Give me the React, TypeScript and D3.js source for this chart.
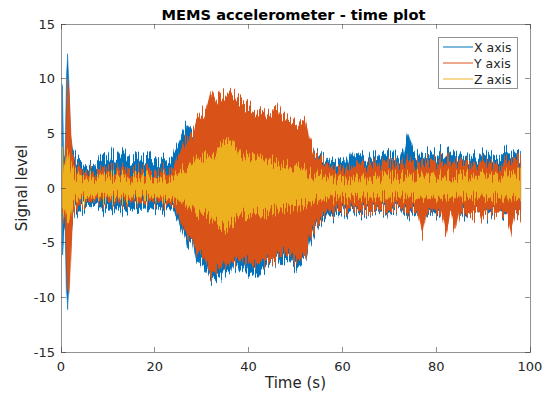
import React from "react";
import * as d3 from "d3";

const title = "MEMS accelerometer - time plot";
const xLabel = "Time (s)";
const yLabel = "Signal level";
const xTicks = [0, 20, 40, 60, 80, 100];
const yTicks = [-15, -10, -5, 0, 5, 10, 15];
const seriesNames = ["X axis", "Y axis", "Z axis"];
const seriesColors = ["#0072BD", "#D95319", "#EDB120"];

// time stamps (s) at which the envelope of each noisy trace was read
const time = [
  0.3, 0.6, 0.9, 1.2, 1.4, 1.7, 2.0, 2.4, 3,
  4, 5, 6, 7, 8, 9, 10, 11, 12, 13, 14, 15, 16, 17, 18, 19, 20, 21, 22, 23, 24,
  25, 26, 27, 28, 29, 30, 31, 32, 33, 34, 35, 36, 37, 38, 39, 40, 41, 42, 43, 44,
  45, 46, 47, 48, 49, 50, 51, 52, 53, 54, 55, 56, 57, 58, 59, 60, 61, 62, 63, 64,
  65, 66, 67, 68, 69, 70, 71, 72, 73, 74, 75, 76, 77, 78, 79, 80, 81, 82, 83, 84,
  85, 86, 87, 88, 89, 90, 91, 92, 93, 94, 95, 96, 97, 98,
];

const xHi = [
  9.1, 2.5, 3.0, 10.5, 12.0, 9.5, 5.0, 3.5, 2.8,
  2.6, 2.2, 2.0, 2.1, 2.4, 2.9, 2.5, 3.2, 2.6, 3.3, 2.8, 2.6, 3.0, 2.7, 2.5, 2.9, 2.6, 2.5, 2.8, 2.6, 3.2,
  4.0, 5.0, 5.8, 5.2, 6.0, 6.5, 6.5, 7.0, 7.5, 8.0, 8.2, 8.5, 8.0, 7.5, 7.0, 7.5, 6.8, 6.5, 6.8, 6.2,
  6.5, 6.0, 6.2, 5.8, 5.5, 5.6, 5.2, 4.8, 4.0, 3.5, 3.0, 2.6, 2.3, 2.5, 2.6, 2.9, 2.4, 3.5, 2.7, 3.0,
  2.6, 3.2, 2.8, 3.0, 2.7, 3.3, 3.0, 2.8, 3.2, 5.0, 3.4, 3.0, 2.8, 3.1, 3.3, 2.9, 3.4, 3.0, 3.5, 3.2,
  2.9, 2.7, 2.8, 3.0, 2.6, 3.2, 2.9, 3.0, 2.7, 3.1, 3.3, 2.9, 3.2, 2.8,
];
const xLo = [
  -6.4, -3.5, -4.0, -10.0, -11.4, -9.0, -5.0, -3.0, -2.2,
  -2.0, -1.8, -1.5, -1.6, -1.7, -2.0, -1.8, -2.2, -1.7, -2.0, -1.9, -2.1, -1.8, -1.9, -1.7, -2.0, -1.8, -1.9, -2.0, -1.8, -2.0,
  -2.8, -4.0, -5.4, -5.0, -6.8, -7.0, -7.5, -8.3, -8.0, -8.2, -7.5, -7.8, -7.0, -7.5, -7.2, -8.0, -7.8, -8.2, -7.5, -7.0,
  -7.0, -6.5, -6.8, -6.5, -6.8, -7.2, -7.0, -6.6, -5.0, -4.0, -3.0, -2.8, -2.4, -2.6, -2.3, -2.2, -2.5, -2.2, -2.4, -2.3,
  -2.1, -2.4, -2.0, -2.2, -2.0, -2.2, -2.1, -2.0, -2.2, -2.4, -2.3, -2.5, -2.7, -2.5, -2.3, -2.4, -2.3, -2.4, -2.5, -2.3,
  -2.2, -2.4, -2.3, -2.5, -2.2, -2.4, -2.6, -2.3, -2.2, -2.4, -2.5, -2.6, -2.4, -2.3,
];
const yHi = [
  2.5, 2.0, 2.5, 7.0, 10.0, 9.0, 6.0, 3.0, 2.0,
  1.8, 1.6, 1.5, 1.4, 1.5, 1.6, 1.5, 1.7, 1.6, 1.7, 1.6, 1.6, 1.7, 1.6, 1.5, 1.6, 1.6, 1.5, 1.7, 1.8, 2.0,
  2.8, 3.8, 4.5, 5.0, 6.3, 6.8, 7.2, 8.8, 7.8, 8.6, 8.4, 8.8, 8.5, 8.0, 7.6, 7.4, 7.2, 7.0, 6.8, 6.6,
  6.9, 7.4, 6.6, 6.3, 6.1, 5.8, 6.0, 6.2, 4.4, 3.4, 2.7, 2.3, 2.0, 1.8, 1.9, 2.0, 1.8, 2.2, 2.0, 2.3,
  2.0, 2.6, 2.1, 2.2, 2.0, 2.4, 2.2, 2.3, 2.2, 2.5, 2.3, 2.2, 2.1, 2.4, 2.5, 2.3, 2.6, 2.4, 2.7, 2.5,
  2.4, 2.2, 2.3, 2.2, 2.1, 2.4, 2.2, 2.3, 2.1, 2.2, 2.4, 2.3, 2.6, 2.5,
];
const yLo = [
  -3.0, -2.5, -3.0, -7.0, -10.0, -9.5, -7.0, -3.0, -1.8,
  -1.5, -1.3, -1.2, -1.2, -1.2, -1.3, -1.2, -1.3, -1.2, -1.3, -1.2, -1.3, -1.2, -1.3, -1.2, -1.3, -1.2, -1.3, -1.4, -1.4, -1.6,
  -2.2, -3.5, -4.5, -5.0, -5.8, -6.3, -6.8, -8.0, -7.3, -7.5, -6.8, -7.2, -6.6, -6.8, -6.6, -6.8, -7.1, -7.0, -6.8, -6.6,
  -7.0, -6.3, -5.8, -6.0, -6.3, -6.6, -6.3, -6.6, -4.4, -3.7, -2.8, -2.3, -2.0, -2.2, -1.9, -2.0, -2.1, -1.9, -2.2, -2.0,
  -1.9, -2.3, -1.8, -2.0, -1.8, -2.0, -1.9, -1.8, -2.0, -2.1, -2.0, -2.3, -4.2, -2.2, -2.0, -2.1, -2.2, -4.2, -2.3, -4.0,
  -2.2, -2.0, -2.4, -2.6, -2.1, -2.8, -2.2, -2.1, -2.6, -2.2, -2.3, -3.8, -2.2, -2.5,
];
const zHi = [
  3.5, 2.0, 2.0, 3.0, 3.5, 3.0, 2.0, 1.5, 1.2,
  1.1, 1.0, 0.9, 0.9, 0.9, 1.0, 0.9, 1.0, 0.9, 1.0, 0.9, 0.9, 1.0, 0.9, 0.9, 1.0, 0.9, 0.9, 1.0, 1.0, 1.1,
  1.3, 1.6, 2.0, 2.3, 2.6, 2.7, 2.8, 3.0, 3.3, 3.8, 4.2, 4.3, 3.8, 3.3, 3.0, 3.0, 2.9, 2.8, 2.7, 2.6,
  2.4, 2.3, 2.2, 2.1, 2.0, 1.9, 1.8, 1.6, 1.4, 1.2, 1.1, 1.0, 0.9, 0.9, 0.9, 0.9, 0.8, 0.9, 0.9, 0.9,
  0.9, 0.9, 0.9, 0.9, 0.9, 1.0, 1.0, 1.0, 1.0, 1.0, 1.1, 1.1, 1.1, 1.1, 1.1, 1.1, 1.1, 1.1, 1.1, 1.1,
  1.1, 1.1, 1.1, 1.1, 1.1, 1.1, 1.1, 1.1, 1.1, 1.1, 1.2, 1.2, 1.2, 1.2,
];
const zLo = [
  -2.5, -2.0, -2.0, -3.0, -3.0, -3.0, -2.5, -1.5, -1.1,
  -1.0, -0.9, -0.9, -0.8, -0.8, -0.9, -0.8, -0.9, -0.8, -0.9, -0.8, -0.9, -0.8, -0.8, -0.8, -0.9, -0.8, -0.9, -0.9, -0.9, -1.0,
  -1.1, -1.3, -1.6, -1.9, -2.2, -2.4, -2.5, -2.8, -3.2, -3.5, -3.6, -3.4, -3.0, -2.6, -2.4, -2.3, -2.4, -2.3, -2.3, -2.2,
  -2.1, -2.0, -1.9, -1.8, -1.8, -1.7, -1.6, -1.5, -1.3, -1.2, -1.1, -1.0, -1.0, -0.9, -0.9, -0.9, -0.9, -0.9, -0.9, -0.9,
  -0.8, -0.9, -0.8, -0.9, -0.8, -0.9, -0.8, -0.8, -0.9, -0.9, -0.9, -0.9, -1.0, -0.9, -0.9, -0.9, -0.9, -0.9, -0.9, -0.9,
  -0.9, -0.9, -0.9, -0.9, -0.9, -0.9, -0.9, -0.9, -0.9, -0.9, -0.9, -0.9, -0.9, -0.9,
];

const W = 544;
const H = 394;
const M = { left: 61, right: 14, top: 24, bottom: 42 };
const FONT = "'DejaVu Sans', sans-serif";
const TXT = "#262626";

export default function App() {
  const x = d3.scaleLinear().domain([0, 100]).range([M.left, W - M.right]);
  const y = d3.scaleLinear().domain([-15, 15]).range([H - M.bottom, M.top]);
  const his = [xHi, yHi, zHi];
  const los = [xLo, yLo, zLo];
  const area = (hi: number[], lo: number[]) =>
    d3
      .area<number>()
      .x((_, i) => x(time[i]))
      .y0((_, i) => y(lo[i]))
      .y1((_, i) => y(hi[i]))(time as any) || "";
  const x0 = x(0), x1 = x(100), y0 = y(-15), y1 = y(15);
  const tl = 5;
  const lgX = 438, lgY = 37, lgW = 79, lgH = 51;
  return (
    <svg width={W} height={H} style={{ position: "absolute", left: 0, top: 0, background: "#fff" }}>
      <defs>
        <filter id="rough" x="-2%" y="-10%" width="104%" height="120%" colorInterpolationFilters="sRGB">
          <feTurbulence type="fractalNoise" baseFrequency="0.9 0.015" numOctaves={2} seed={4} result="n" />
          <feColorMatrix
            in="n"
            type="matrix"
            values="2.4 0 0 0 -0.7  0 0 0 0 0.5  0 0 0 0 0  0 0 0 0 1"
            result="m"
          />
          <feDisplacementMap in="SourceGraphic" in2="m" scale={14} xChannelSelector="G" yChannelSelector="R" />
        </filter>
      </defs>
      <rect x={0} y={0} width={W} height={H} fill="#fff" />
      {his.map((hi, k) => (
        <g key={k} filter="url(#rough)">
          <path d={area(hi, los[k])} fill={seriesColors[k]} stroke={seriesColors[k]} strokeWidth={0.6} />
        </g>
      ))}
      {/* axes box */}
      <g stroke={TXT} strokeWidth={0.5} fill="none" shapeRendering="crispEdges">
        <rect x={x0} y={y1} width={x1 - x0} height={y0 - y1} />
        {xTicks.map((t) => (
          <g key={"xt" + t}>
            <line x1={x(t)} x2={x(t)} y1={y0} y2={y0 - tl} />
            <line x1={x(t)} x2={x(t)} y1={y1} y2={y1 + tl} />
          </g>
        ))}
        {yTicks.map((t) => (
          <g key={"yt" + t}>
            <line x1={x0} x2={x0 + tl} y1={y(t)} y2={y(t)} />
            <line x1={x1} x2={x1 - tl} y1={y(t)} y2={y(t)} />
          </g>
        ))}
      </g>
      <g fontFamily={FONT} fontSize={13} fill={TXT}>
        {xTicks.map((t) => (
          <text key={"xl" + t} x={x(t)} y={y0 + 19} textAnchor="middle">
            {t}
          </text>
        ))}
        {yTicks.map((t) => (
          <text key={"yl" + t} x={x0 - 6} y={y(t) + 4.5} textAnchor="end">
            {t}
          </text>
        ))}
      </g>
      <text x={(x0 + x1) / 2} y={388} textAnchor="middle" fontFamily={FONT} fontSize={15} fill={TXT}>
        {xLabel}
      </text>
      <text
        transform={`translate(27,${(y0 + y1) / 2}) rotate(-90)`}
        textAnchor="middle"
        fontFamily={FONT}
        fontSize={15}
        fill={TXT}
      >
        {yLabel}
      </text>
      <text x={(x0 + x1) / 2 - 2} y={20} textAnchor="middle" fontFamily={FONT} fontSize={14.6} fontWeight="bold" fill="#000">
        {title}
      </text>
      {/* legend */}
      <rect x={lgX} y={lgY} width={lgW} height={lgH} fill="#fff" stroke={TXT} strokeWidth={0.5} shapeRendering="crispEdges" />
      {seriesNames.map((n, k) => (
        <g key={n}>
          <line x1={lgX + 5} x2={lgX + 35} y1={lgY + 10 + k * 16} y2={lgY + 10 + k * 16} stroke={seriesColors[k]} strokeWidth={1} />
          <text x={lgX + 36} y={lgY + 14.5 + k * 16} fontFamily={FONT} fontSize={12.5} fill={TXT}>
            {n}
          </text>
        </g>
      ))}
    </svg>
  );
}
